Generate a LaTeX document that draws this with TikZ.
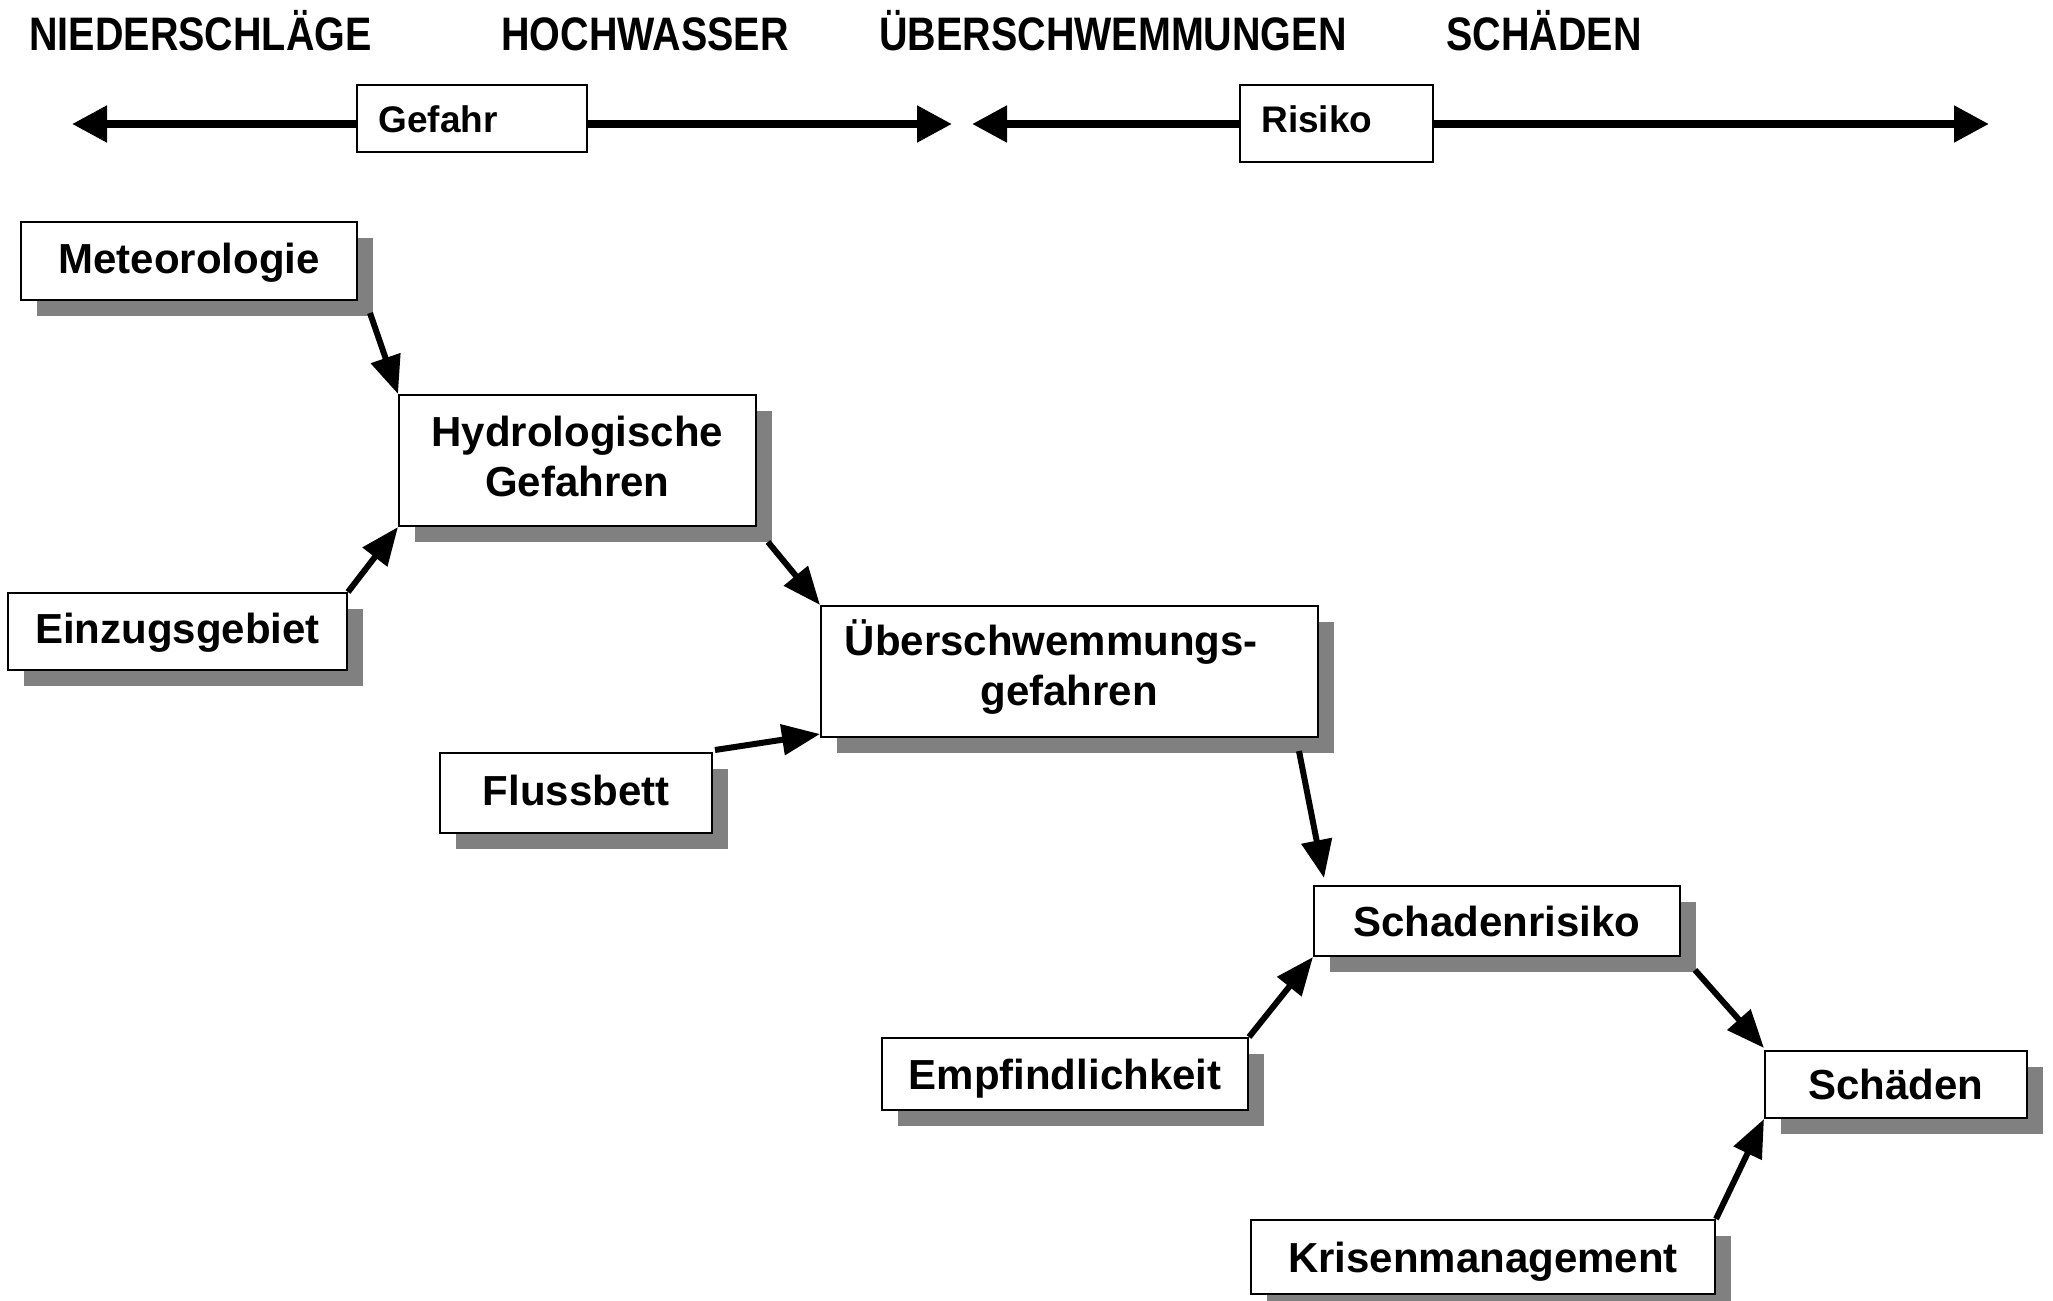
\documentclass[tikz,border=0pt]{standalone}
\usepackage{fontspec}
\setmainfont{Liberation Sans}
\newfontfamily\hdfont{Liberation Sans}[FakeStretch=0.84]
\usetikzlibrary{arrows.meta,calc,shadows}
\definecolor{shadowgray}{RGB}{128,128,128}
\tikzset{
  box/.style={draw=black, line width=1pt, fill=white, inner sep=0pt,
    font=\bfseries\fontsize{21pt}{25pt}\selectfont, align=center,
    drop shadow={shadow xshift=8pt, shadow yshift=-8pt, fill=shadowgray, opacity=1}},
  one/.style={text height=16pt, text depth=1pt},
  oneup/.style={text height=16pt, text depth=4pt},
  tagbox/.style={draw=black, line width=1pt, fill=white, inner sep=0pt},
  tagtext/.style={anchor=base west, inner sep=0pt, font=\bfseries\fontsize{18.5pt}{22pt}\selectfont},
  head/.style={anchor=base west, inner sep=0pt, font=\hdfont\bfseries\fontsize{23.5pt}{28pt}\selectfont},
  bigarrow/.style={line width=4pt, {Triangle[length=17.5pt,width=17.5pt]}-{Triangle[length=17.5pt,width=17.5pt]}},
  flow/.style={line width=3pt, -{Triangle[length=19pt,width=15pt]}},
}
\begin{document}
\begin{tikzpicture}[x=0.5pt,y=-0.5pt]
\useasboundingbox (0,0) rectangle (2053,1301);
% headings
\node[head] (h1) at (29,50) {NIEDERSCHLÄGE};
\node[head] (h2) at (501,50) {HOCHWASSER};
\node[head] (h3) at (879,50) {ÜBERSCHWEMMUNGEN};
\node[head] (h4) at (1446,50) {SCHÄDEN};
% top arrows
\coordinate (g1) at (72,124);
\coordinate (g2) at (952,124);
\coordinate (r1) at (972,124);
\coordinate (r2) at (1989,124);
\draw[bigarrow] (g1) -- (g2);
\draw[bigarrow] (r1) -- (r2);
\node[tagbox, minimum width=115pt, minimum height=33.5pt] (gef) at (472,118.5) {};
\node[tagtext] (gefT) at (378,132) {Gefahr};
\node[tagbox, minimum width=96.5pt, minimum height=38.5pt] (ris) at (1336.5,123.5) {};
\node[tagtext] (risT) at (1261,132) {Risiko};
% boxes
\node[box, oneup, minimum width=168pt, minimum height=39pt] (met) at (189,261) {Meteorologie};
\node[box, minimum width=178.25pt, minimum height=65.5pt] (hyd) at (577.25,460.5) {Hydrologische\\Gefahren\rule[-4.5pt]{0pt}{4.5pt}};
\node[box, oneup, minimum width=169.5pt, minimum height=38.5pt] (ein) at (177.5,631.5) {Einzugsgebiet};
\node[box, minimum width=248.25pt, minimum height=65.5pt] (ueb) at (1069.25,671.5) {Überschwemmungs-\hspace*{18pt}\\gefahren\rule[-8.5pt]{0pt}{8.5pt}};
\node[box, oneup, minimum width=136pt, minimum height=40pt] (flu) at (576,793) {Flussbett};
\node[box, one, minimum width=183pt, minimum height=35pt] (sr) at (1497,921) {Schadenrisiko};
\node[box, one, minimum width=183pt, minimum height=36pt] (emp) at (1065,1074) {Empfindlichkeit};
\node[box, one, minimum width=131pt, minimum height=33.5pt] (sch) at (1896,1084.5) {Schäden};
\node[box, one, minimum width=232pt, minimum height=37pt] (kri) at (1483,1257) {Krisenmanagement};
% connectors
\draw[flow] ($(met.south east)+(12,12)$) -- (hyd.north west);
\draw[flow] (ein.north east) -- (hyd.south west);
\draw[flow] ($(hyd.south east)+(11.5,15)$) -- (ueb.north west);
\draw[flow] ($(flu.north east)+(2,-2)$) -- ($(ueb.south west)+(0,-4)$);
\draw[flow] ($(ueb.south east)+(-19.5,13)$) -- ($(sr.north west)+(11,-7)$);
\draw[flow] (emp.north east) -- (sr.south west);
\draw[flow] ($(sr.south east)+(14,13)$) -- ($(sch.north west)+(0,-2)$);
\draw[flow] (kri.north east) -- (sch.south west);
\end{tikzpicture}
\end{document}
